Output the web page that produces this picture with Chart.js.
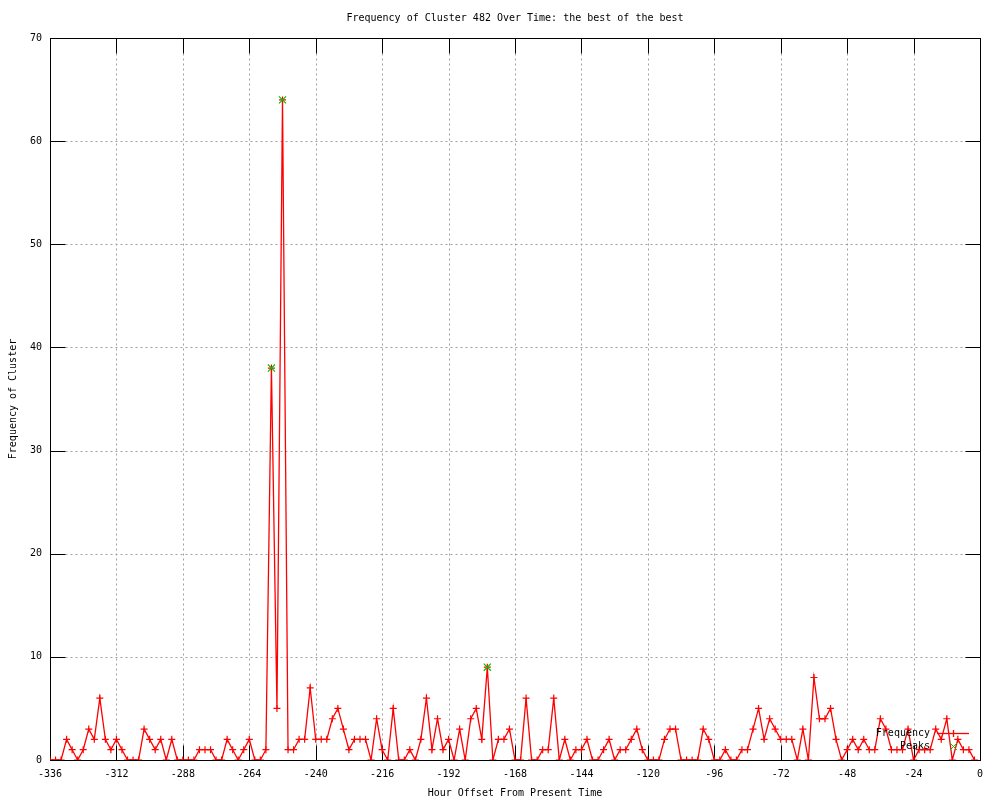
<!DOCTYPE html>
<html lang="en">
<head>
  <meta charset="UTF-8">
  <title>Frequency of Cluster 482 Over Time</title>
  <script src="https://cdn.jsdelivr.net/npm/chart.js"></script>
  <style>
    body { margin: 0; background: #fff; }
    #wrap { width: 1000px; height: 800px; }
  </style>
</head>
<body>
  <div id="wrap"><canvas id="chart" width="1000" height="800"></canvas></div>

  <script>
    const titleText = 'Frequency of Cluster 482 Over Time: the best of the best';

    // hour offsets, one sample every 2 hours
    const hours = [
      -336,-334,-332,-330,-328,-326,-324,-322,-320,-318,-316,-314,
      -312,-310,-308,-306,-304,-302,-300,-298,-296,-294,-292,-290,
      -288,-286,-284,-282,-280,-278,-276,-274,-272,-270,-268,-266,
      -264,-262,-260,-258,-256,-254,-252,-250,-248,-246,-244,-242,
      -240,-238,-236,-234,-232,-230,-228,-226,-224,-222,-220,-218,
      -216,-214,-212,-210,-208,-206,-204,-202,-200,-198,-196,-194,
      -192,-190,-188,-186,-184,-182,-180,-178,-176,-174,-172,-170,
      -168,-166,-164,-162,-160,-158,-156,-154,-152,-150,-148,-146,
      -144,-142,-140,-138,-136,-134,-132,-130,-128,-126,-124,-122,
      -120,-118,-116,-114,-112,-110,-108,-106,-104,-102,-100,-98,
      -96,-94,-92,-90,-88,-86,-84,-82,-80,-78,-76,-74,
      -72,-70,-68,-66,-64,-62,-60,-58,-56,-54,-52,-50,
      -48,-46,-44,-42,-40,-38,-36,-34,-32,-30,-28,-26,
      -24,-22,-20,-18,-16,-14,-12,-10,-8,-6,-4,-2
    ];
    const frequency = [
      0,0,0,2,1,0,1,3,2,6,2,1,
      2,1,0,0,0,3,2,1,2,0,2,0,
      0,0,0,1,1,1,0,0,2,1,0,1,
      2,0,0,1,38,5,64,1,1,2,2,7,
      2,2,2,4,5,3,1,2,2,2,0,4,
      1,0,5,0,0,1,0,2,6,1,4,1,
      2,0,3,0,4,5,2,9,0,2,2,3,
      0,0,6,0,0,1,1,6,0,2,0,1,
      1,2,0,0,1,2,0,1,1,2,3,1,
      0,0,0,2,3,3,0,0,0,0,3,2,
      0,0,1,0,0,1,1,3,5,2,4,3,
      2,2,2,0,3,0,8,4,4,5,2,0,
      1,2,1,2,1,1,4,3,1,1,1,3,
      0,1,1,1,3,2,4,0,2,1,1,0
    ];
    const peakHours = [-256, -252, -178];
    const peakValues = [38, 64, 9];

    const xMin = -336, xMax = 0, xStep = 24;
    const yMin = 0, yMax = 70, yStep = 10;

    const FONT = '"DejaVu Sans Mono", "Liberation Mono", monospace';
    const RED = '#ff0000';
    const GREEN = '#00c000';

    function line(ctx, x1, y1, x2, y2) {
      ctx.beginPath();
      ctx.moveTo(x1, y1);
      ctx.lineTo(x2, y2);
      ctx.stroke();
    }

    // gnuplot style frame: dotted grid, solid border, inward ticks on all sides
    const gnuFrame = {
      id: 'gnuFrame',
      beforeDatasetsDraw(chart) {
        const { ctx, chartArea: a, scales: { x, y } } = chart;
        const L = Math.round(a.left) + 0.5, R = Math.round(a.right) + 0.5;
        const T = Math.round(a.top) + 0.5, B = Math.round(a.bottom) + 0.5;
        const tick = 15;
        ctx.save();
        ctx.lineWidth = 1;

        ctx.strokeStyle = '#a0a0a0';
        ctx.setLineDash([2, 3]);
        x.ticks.forEach(t => {
          const px = Math.round(x.getPixelForValue(t.value)) + 0.5;
          if (px <= L + 1 || px >= R - 1) return;
          line(ctx, px, T, px, B);
        });
        y.ticks.forEach(t => {
          const py = Math.round(y.getPixelForValue(t.value)) + 0.5;
          if (py <= T + 1 || py >= B - 1) return;
          line(ctx, L, py, R, py);
        });

        ctx.setLineDash([]);
        ctx.strokeStyle = '#000';
        x.ticks.forEach(t => {
          const px = Math.round(x.getPixelForValue(t.value)) + 0.5;
          line(ctx, px, B, px, B - tick);
          line(ctx, px, T, px, T + tick);
        });
        y.ticks.forEach(t => {
          const py = Math.round(y.getPixelForValue(t.value)) + 0.5;
          line(ctx, L, py, L + tick, py);
          line(ctx, R, py, R - tick, py);
        });
        ctx.strokeRect(L, T, R - L, B - T);
        ctx.restore();
      },
      afterDatasetsDraw(chart) {
        const { ctx, chartArea: a } = chart;
        const textX = a.right - 50;
        const sx1 = a.right - 43, sx2 = a.right - 11, sx = a.right - 27;
        const y1 = a.bottom - 27, y2 = a.bottom - 14;
        ctx.save();
        ctx.font = '10px ' + FONT;
        ctx.fillStyle = '#000';
        ctx.textAlign = 'right';
        ctx.textBaseline = 'middle';
        ctx.fillText('Frequency', textX, y1);
        ctx.fillText('Peaks', textX, y2);

        ctx.lineWidth = 1.3;
        ctx.strokeStyle = RED;
        line(ctx, sx1, y1 + 0.5, sx2, y1 + 0.5);
        line(ctx, sx + 0.5, y1 - 3, sx + 0.5, y1 + 4);

        ctx.lineWidth = 1;
        ctx.strokeStyle = GREEN;
        line(ctx, sx - 3, y2 - 3, sx + 4, y2 + 4);
        line(ctx, sx - 3, y2 + 4, sx + 4, y2 - 3);
        ctx.restore();
      },
      afterDraw(chart) {
        const { ctx, chartArea: a } = chart;
        ctx.save();
        ctx.font = '10px ' + FONT;
        ctx.fillStyle = '#000';
        ctx.textAlign = 'center';
        ctx.textBaseline = 'middle';
        ctx.fillText(titleText, (a.left + a.right) / 2, 18);
        ctx.restore();
      }
    };

    const freqPoints = hours.map((h, i) => ({ x: h, y: frequency[i] }));
    const peakPoints = peakHours.map((h, i) => ({ x: h, y: peakValues[i] }));

    new Chart(document.getElementById('chart'), {
      type: 'line',
      data: {
        datasets: [
          {
            label: 'Peaks',
            data: peakPoints,
            showLine: false,
            pointStyle: 'crossRot',
            pointRadius: 5,
            pointBorderWidth: 1.2,
            pointBorderColor: GREEN,
            borderColor: GREEN,
            order: 0
          },
          {
            label: 'Frequency',
            data: freqPoints,
            borderColor: RED,
            borderWidth: 1.3,
            tension: 0,
            pointStyle: 'cross',
            pointRadius: 3.5,
            pointBorderWidth: 1.2,
            pointBorderColor: RED,
            order: 1
          }
        ]
      },
      options: {
        responsive: false,
        animation: false,
        layout: { padding: { top: 38, right: 20, left: 0, bottom: 0 } },
        plugins: {
          legend: { display: false },
          title: { display: false },
          tooltip: { enabled: false }
        },
        scales: {
          x: {
            type: 'linear',
            min: xMin,
            max: xMax,
            afterFit(scale) { scale.height = 40; },
            grid: { display: false, drawTicks: false },
            border: { display: false },
            ticks: {
              stepSize: xStep,
              padding: 8,
              maxRotation: 0,
              color: '#000',
              font: { family: FONT, size: 10 }
            },
            title: {
              display: true,
              text: 'Hour Offset From Present Time',
              color: '#000',
              font: { family: FONT, size: 10 },
              padding: { top: 0, bottom: 1 }
            }
          },
          y: {
            min: yMin,
            max: yMax,
            afterFit(scale) { scale.width = 50; },
            grid: { display: false, drawTicks: false },
            border: { display: false },
            ticks: {
              stepSize: yStep,
              padding: 8,
              color: '#000',
              font: { family: FONT, size: 10 }
            },
            title: {
              display: true,
              text: 'Frequency of Cluster',
              color: '#000',
              font: { family: FONT, size: 10 },
              padding: { top: 7, bottom: 0 }
            }
          }
        }
      },
      plugins: [gnuFrame]
    });
  </script>
</body>
</html>
